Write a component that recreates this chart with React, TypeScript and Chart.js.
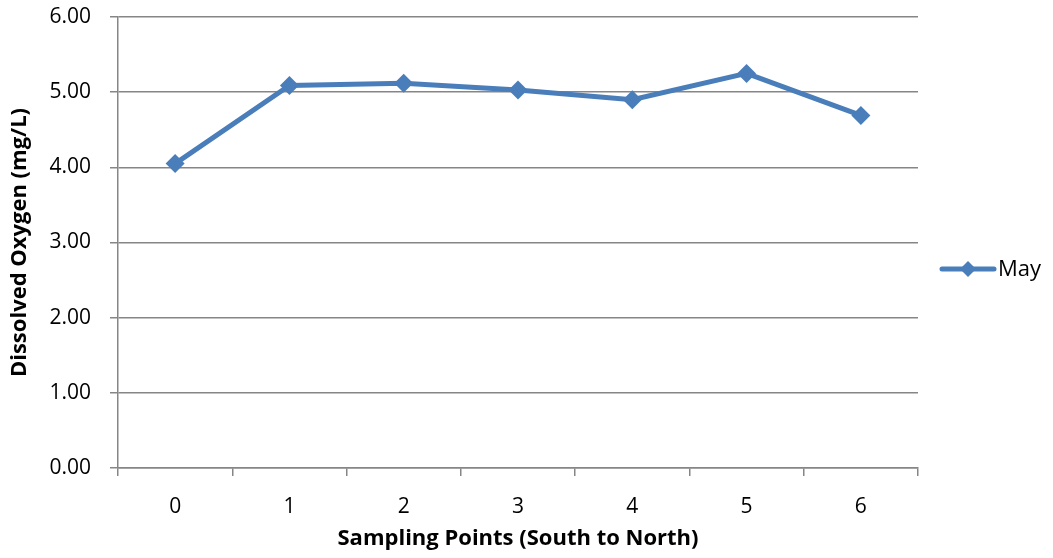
import React, { useEffect, useRef } from "react";
import { Chart, registerables } from "chart.js";

Chart.register(...registerables);

const categories = ["0", "1", "2", "3", "4", "5", "6"];
const mayValues = [4.05, 5.09, 5.12, 5.03, 4.9, 5.25, 4.69];
const seriesLabel = "May";
const yTicks = [0, 1, 2, 3, 4, 5, 6];

const LINE_COLOR = "#4A7EBB";
const GRID_COLOR = "#868686";
const FONT = "'Open Sans', 'Liberation Sans', sans-serif";

const legendPlugin = {
  id: "sideLegend",
  afterDraw(chart: any) {
    const ctx = chart.ctx;
    const ds = chart.data.datasets[0];
    const y = 269;
    ctx.save();
    ctx.strokeStyle = ds.borderColor;
    ctx.lineWidth = 5;
    ctx.lineCap = "round";
    ctx.beginPath();
    ctx.moveTo(942, y);
    ctx.lineTo(994, y);
    ctx.stroke();
    ctx.fillStyle = ds.borderColor;
    ctx.beginPath();
    const r = 8;
    ctx.moveTo(968, y - r);
    ctx.lineTo(968 + r, y);
    ctx.lineTo(968, y + r);
    ctx.lineTo(968 - r, y);
    ctx.closePath();
    ctx.fill();
    ctx.fillStyle = "#000";
    ctx.font = `22px ${FONT}`;
    ctx.textBaseline = "middle";
    ctx.textAlign = "left";
    ctx.fillText(ds.label, 998, y + 1);
    ctx.restore();
  },
};

export default function App() {
  const ref = useRef<HTMLCanvasElement | null>(null);
  useEffect(() => {
    if (!ref.current) return;
    const chart = new Chart(ref.current, {
      type: "line",
      data: {
        labels: categories,
        datasets: [
          {
            label: seriesLabel,
            data: mayValues,
            borderColor: LINE_COLOR,
            backgroundColor: LINE_COLOR,
            borderWidth: 5,
            pointStyle: "rectRot",
            pointRadius: 9.5,
            pointBorderWidth: 0,
            pointBackgroundColor: LINE_COLOR,
            tension: 0,
          },
        ],
      },
      options: {
        animation: false,
        responsive: true,
        maintainAspectRatio: false,
        layout: { padding: { top: 17, right: 135, left: 0, bottom: 0 } },
        plugins: { legend: { display: false }, tooltip: { enabled: false } },
        scales: {
          x: {
            type: "category",
            offset: true,
            afterFit: (s: any) => {
              s.height = 90;
            },
            grid: {
              offset: true,
              drawOnChartArea: false,
              drawTicks: true,
              tickLength: 8,
              color: GRID_COLOR,
              lineWidth: 1.5,
            },
            border: { display: true, color: GRID_COLOR, width: 1.5 },
            ticks: {
              color: "#000",
              font: { family: FONT, size: 21 },
              padding: 18,
              maxRotation: 0,
            },
            title: {
              display: true,
              text: "Sampling Points (South to North)",
              color: "#000",
              font: { family: FONT, size: 22, weight: "bold" },
              padding: { top: 0, bottom: 6 },
            },
          },
          y: {
            min: 0,
            max: 6,
            afterFit: (s: any) => {
              s.width = 118;
              s.paddingTop = 0;
              s.paddingBottom = 0;
            },
            afterBuildTicks: (s: any) => {
              s.ticks = yTicks.map((v) => ({ value: v }));
            },
            grid: {
              color: GRID_COLOR,
              lineWidth: 1.5,
              drawTicks: true,
              tickLength: 8,
            },
            border: { display: true, color: GRID_COLOR, width: 1.5 },
            ticks: {
              color: "#000",
              font: { family: FONT, size: 21 },
              padding: 19,
              callback: (v: any) => Number(v).toFixed(2),
            },
            title: {
              display: true,
              text: "Dissolved Oxygen (mg/L)",
              color: "#000",
              font: { family: FONT, size: 22, weight: "bold" },
              padding: { top: 7, bottom: 0 },
            },
          },
        },
      },
      plugins: [legendPlugin],
    });
    return () => chart.destroy();
  }, []);
  return (
    <div style={{ position: "fixed", left: 0, top: 0, width: 1053, height: 558, background: "#fff" }}>
      <canvas ref={ref} />
    </div>
  );
}
